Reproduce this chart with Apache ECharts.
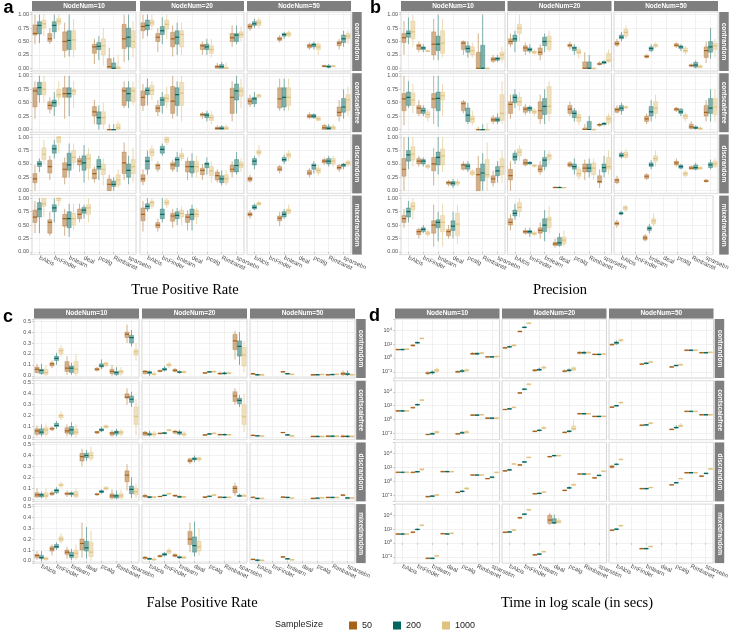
<!DOCTYPE html>
<html><head><meta charset="utf-8">
<script src="https://cdn.jsdelivr.net/npm/echarts@6/dist/echarts.min.js"></script>
<style>html,body{margin:0;padding:0;background:#fff}#c{width:732px;height:634px}</style>
</head><body><div id="c"></div>
<script>
// ---------- categories ----------
const methods = ['bAlcis','bnFinder','bnlearn','deal','pcalg','Rimbanet','sparsebn'];
const nodeNums = ['NodeNum=10','NodeNum=20','NodeNum=50'];
const dataTypes = ['contrandom','contscalefree','discrandom','mixedrandom'];
const sampleSizes = ['50','200','1000'];
const titles = ['True Positive Rate','Precision','False Positive Rate','Time in log scale (in secs)'];
const letters = ['a','b','c','d'];

// each facet: 7 methods (null = not run); each method: [n50, n200, n1000] boxes [lo,q1,median,q3,hi]
// ---- a: True Positive Rate (percent) ----
const a10cr = [[[45,62,65,81,100],[47,64,80,87,100],[60,75,83,90,100]],[[45,50,55,65,75],[55,68,80,87,100],[70,82,88,93,100]],[[20,33,50,68,85],[22,35,52,70,100],[20,35,53,70,92]],null,[[8,28,40,45,55],[15,35,41,48,60],[5,25,42,55,75]],[[0,0,3,18,38],[0,0,0,10,20],[0,0,0,3,25]],[[12,37,55,82,100],[15,40,58,75,100],[20,38,50,70,88]]];
const a20cr = [[[55,70,78,85,100],[60,72,80,90,100],[70,80,85,90,100]],[[30,50,58,65,75],[45,63,70,78,95],[55,73,82,90,100]],[[22,40,55,67,80],[25,45,58,70,85],[25,40,63,70,85]],null,[[25,35,42,45,50],[25,35,40,45,55],[20,28,35,42,55]],[[0,0,3,5,10],[0,0,3,7,12],[0,0,0,2,10]],[[40,50,57,65,80],[45,50,62,65,80],[50,58,63,68,78]]];
const a50cr = [[[70,74,78,82,85],[75,80,83,87,92],[75,80,85,90,95]],null,[[48,52,55,58,62],[55,60,63,65,68],[58,60,64,67,70]],null,[[35,38,42,45,48],[35,40,44,46,50],[25,35,40,45,48]],[[2,3,4,5,6],[0,2,3,5,8],[2,3,4,5,6]],[[35,42,47,50,55],[40,48,55,62,70],[45,55,60,65,70]]];
const a10cs = [[[20,42,72,78,90],[50,65,78,88,100],[50,65,75,88,100]],[[30,38,45,52,60],[25,43,50,55,70],[45,60,65,75,90]],[[20,60,67,78,100],[25,60,67,78,100],[40,65,72,75,90]],null,[[10,25,33,43,55],[0,10,22,33,45],[0,10,22,33,50]],[[0,0,0,0,10],[0,0,0,0,10],[0,0,3,10,15]],[[40,45,72,78,90],[40,53,67,78,90],[45,52,72,78,90]]];
const a20cs = [[[35,45,60,72,85],[45,65,73,78,95],[55,65,73,82,90]],[[25,33,40,45,55],[30,45,55,60,70],[40,52,58,65,80]],[[20,30,53,80,100],[25,45,65,78,90],[15,45,68,88,100]],null,[[20,25,28,30,33],[15,22,27,30,35],[10,17,22,27,35]],[[0,0,2,4,8],[0,0,2,5,8],[0,0,2,5,10]],[[15,30,60,77,90],[30,55,72,85,100],[40,62,72,78,95]]];
const a50cs = [[[42,47,53,58,65],[42,48,57,60,70],[58,60,63,65,68]],null,[[35,40,57,78,95],[35,42,60,78,95],[35,45,60,78,95]],null,[[20,22,25,28,32],[20,22,25,28,30],[15,17,20,23,26]],[[0,0,3,8,10],[0,0,2,5,10],[0,0,3,6,10]],[[15,25,32,42,55],[20,32,42,58,75],[25,35,55,65,80]]];
const a10dr = [[[0,15,22,32,48],[35,45,50,55,60],[50,58,68,80,95]],[[20,33,45,57,65],[60,70,78,85,95],[70,90,100,100,100]],[[12,25,40,52,62],[25,38,48,70,88],[40,52,62,75,88]],[[35,48,55,60,65],[15,38,52,65,85],[20,42,60,68,80]],[[15,22,32,40,45],[20,40,45,58,65],[10,30,40,50,60]],[[0,0,12,22,30],[0,8,12,18,25],[5,10,20,30,40]],[[20,32,52,72,90],[12,25,38,50,65],[15,32,45,58,80]]];
const a20dr = [[[10,17,22,30,40],[30,40,55,63,75],[55,65,72,78,85]],[[35,40,47,50,55],[65,70,77,83,88],[85,90,95,100,100]],[[35,40,48,52,58],[35,45,58,62,72],[55,60,65,70,80]],[[20,35,45,55,62],[25,33,45,55,70],[25,35,45,55,65]],[[20,30,38,42,50],[30,43,50,52,62],[15,28,37,45,55]],[[15,20,28,35,40],[10,15,22,28,38],[10,15,22,30,38]],[[25,35,40,48,55],[30,35,47,58,72],[35,43,48,53,60]]];
const a50dr = [[[15,18,22,25,30],[40,48,55,60,65],[62,68,72,75,85]],null,[[32,37,40,45,48],[50,55,58,62,67],[55,62,67,70,75]],null,[[25,30,33,38,42],[32,40,47,50,55],[28,33,38,42,48]],[[48,52,55,58,62],[45,50,55,60,65],[45,50,55,60,65]],[[35,40,43,47,50],[40,45,48,50,52],[45,48,52,55,58]]];
const a10mr = [[[35,55,65,78,95],[35,65,80,92,100],[65,85,90,100,100]],[[30,35,55,60,75],[55,75,82,88,100],[85,95,100,100,100]],[[30,48,62,70,80],[28,45,62,75,90],[40,50,62,72,90]],[[55,62,70,80,90],[62,72,78,83,88],[55,70,82,88,100]],null,null,null];
const a20mr = [[[38,58,70,82,95],[75,80,85,90,100],[80,85,92,95,100]],[[38,45,50,55,62],[55,62,70,80,100],[82,88,92,97,100]],[[45,57,67,72,80],[50,62,68,75,82],[50,65,72,78,85]],[[40,55,65,70,78],[40,60,70,80,88],[52,65,70,78,82]],null,null,null];
const a50mr = [[[62,67,70,73,78],[78,80,83,87,90],[85,88,90,92,95]],null,[[48,58,63,67,75],[62,65,70,75,80],[70,72,77,80,88]],null,null,null,null];

// ---- b: Precision (percent) ----
const b10cr = [[[25,48,57,65,88],[45,58,65,70,95],[40,55,68,88,100]],[[30,35,42,45,50],[30,35,38,40,45],[30,31,32,33,35]],[[15,25,45,68,92],[15,33,45,60,100],[20,28,47,70,92]],null,[[25,35,47,50,52],[20,30,37,42,50],[20,25,33,40,48]],[[0,0,0,30,65],[0,0,0,43,100],[0,0,0,0,0]],[[10,13,17,20,25],[12,15,18,20,25],[10,17,25,30,40]]];
const b20cr = [[[40,45,50,55,65],[30,50,55,62,70],[50,65,75,82,100]],[[25,32,38,42,48],[28,32,35,38,45],[25,28,30,32,35]],[[15,25,30,38,45],[30,42,50,58,65],[30,35,50,60,70]],null,[[35,40,43,45,50],[25,33,38,40,45],[18,27,30,35,40]],[[0,0,0,12,30],[0,0,0,12,25],[0,0,0,0,0]],[[5,7,8,10,13],[7,9,11,13,15],[10,12,15,28,35]]];
const b50cr = [[[40,43,46,50,55],[50,55,58,62,68],[55,60,67,73,80]],null,[[18,20,22,24,27],[30,33,37,40,45],[38,40,43,45,48]],null,[[38,41,43,46,48],[32,37,40,42,45],[25,30,33,38,42]],[[2,4,5,7,9],[0,2,6,11,15],[0,2,3,5,8]],[[10,20,33,40,50],[18,30,40,50,75],[20,35,42,47,55]]];
const b10cs = [[[8,35,57,67,100],[40,45,60,70,90],[30,45,55,68,85]],[[25,30,40,45,55],[25,30,35,40,45],[15,22,28,33,38]],[[10,40,57,67,100],[5,35,58,70,100],[25,55,63,70,85]],null,[[30,35,48,52,55],[10,15,27,40,50],[8,13,20,25,35]],[[0,0,0,0,5],[0,0,0,0,10],[0,0,0,0,12]],[[10,15,18,22,27],[10,15,18,22,30],[10,17,30,65,90]]];
const b20cs = [[[20,30,47,52,65],[40,50,60,65,75],[35,45,52,60,70]],[[27,32,38,42,48],[30,35,40,42,45],[25,30,33,36,40]],[[10,20,35,52,65],[10,28,43,58,75],[15,30,43,80,90]],null,[[25,30,38,45,52],[15,22,30,35,40],[8,15,22,28,35]],[[0,0,0,3,10],[0,0,0,15,25],[0,0,0,0,3]],[[5,7,9,10,12],[8,9,11,12,14],[8,12,20,25,30]]];
const b50cs = [[[30,32,37,40,45],[28,35,40,45,50],[38,40,42,42,45]],null,[[10,15,20,25,30],[15,25,33,43,55],[20,30,40,52,65]],null,[[33,35,38,40,42],[25,30,33,38,40],[15,20,25,28,32]],[[0,2,5,10,15],[0,2,3,5,8],[0,0,2,3,5]],[[15,25,32,45,55],[15,30,40,58,75],[15,28,42,58,75]]];
const b10dr = [[[0,27,40,60,100],[40,55,67,75,100],[45,57,68,82,100]],[[45,50,55,60,65],[45,50,55,58,62],[40,43,46,48,50]],[[10,37,50,62,80],[30,48,62,72,100],[35,48,65,78,100]],[[8,12,15,17,20],[5,10,14,17,22],[8,12,15,17,22]],[[38,40,48,50,55],[35,40,46,50,55],[27,30,33,37,40]],[[0,0,30,42,65],[0,18,33,50,70],[0,25,30,58,90]],[[8,15,22,28,37],[15,28,37,45,55],[15,30,45,60,75]]];
const b20dr = [[[0,20,28,40,55],[50,57,63,70,75],[55,65,72,78,85]],[[45,48,52,58,60],[48,50,52,53,55],[43,45,47,48,50]],[[30,35,40,47,55],[38,45,57,62,75],[50,58,65,68,75]],[[5,5,6,7,8],[5,5,6,7,8],[5,5,6,6,7]],[[43,45,48,52,55],[30,40,45,50,60],[20,27,32,40,45]],[[20,35,42,50,58],[25,35,42,50,60],[20,30,42,52,60]],[[5,15,17,28,40],[25,35,43,50,65],[30,40,45,62,75]]];
const b50dr = [[[12,15,20,22,28],[60,63,66,70,73],[58,62,67,72,78]],null,[[20,23,27,30,33],[40,45,48,52,57],[45,55,60,65,75]],null,[[45,48,52,55,60],[40,42,45,48,50],[25,28,32,35,38]],[[40,40,42,45,47],[38,40,43,48,52],[40,40,42,44,45]],[[15,17,18,20,22],[40,43,48,52,58],[42,45,50,55,60]]];
const b10mr = [[[45,55,62,68,80],[55,65,75,82,95],[60,78,85,92,100]],[[25,32,38,42,45],[35,38,42,45,50],[28,32,35,38,42]],[[10,35,50,58,88],[20,45,55,60,75],[10,38,55,68,90]],[[25,30,38,42,50],[25,40,48,58,75],[15,30,52,72,88]],null,null,null];
const b20mr = [[[40,50,55,62,70],[60,67,72,78,90],[65,75,83,92,100]],[[32,35,38,40,45],[28,35,38,40,45],[30,32,34,36,40]],[[25,35,40,45,55],[20,38,50,62,78],[35,45,60,65,85]],[[8,12,15,18,25],[10,12,17,27,35],[10,15,22,28,40]],null,null,null];
const b50mr = [[[45,50,53,56,60],[68,70,72,74,77],[75,78,82,85,88]],null,[[20,22,26,30,33],[35,40,44,47,52],[48,52,58,62,72]],null,null,null,null];

// ---- c: False Positive Rate (percent) ----
const c10cr = [[[2,3,6,8,11],[1,2,5,6,11],[0,1,3,6,10]],[[7,9,11,12,14],[10,14,16,18,21],[17,20,23,25,28]],[[1,4,7,13,18],[1,3,7,9,12],[0,2,6,13,20]],null,[[4,5,6,7,8],[6,8,9,11,15],[8,9,11,12,13]],[[0,2,4,6,10],[0,1,3,4,8],[0,2,4,5,8]],[[30,35,38,40,47],[27,30,35,37,42],[14,19,22,24,30]]];
const c20cr = [[[1,2,4,4.5,5],[0,2,3,4,5],[0,1,1.5,2,4]],[[3,4,4.3,5,6],[4,5,6,7,9],[7,9,10,11,13]],[[3,4,5,6,7],[2,3,3.3,4,5],[2,3,3.3,4,5]],null,[[2,2.3,2.6,3,3.3],[3,3.3,3.6,4,4.3],[3,3.4,3.8,4.2,5]],[[1,1.6,2,2.6,4],[1,1.6,2.2,2.8,4],[1,2,2.5,3,4]],[[15,24,32,38,41],[10,18,27,32,40],[3,9,19,26,32]]];
const c50cr = [[[1,1.5,2,2,2.5],[0.5,1,1,1.2,1.5],[0.5,0.7,1,1,1.2]],null,[[3,3.3,3.7,4,4.2],[1.5,1.8,2,2.2,2.5],[1,1.2,1.4,1.6,1.8]],null,[[0.5,0.8,1,1.1,1.3],[0.8,1,1.1,1.2,1.4],[1,1.1,1.3,1.4,1.6]],[[0.5,0.8,1,1.2,1.5],[0.8,1,1.2,1.4,1.6],[1,1.2,1.4,1.6,1.8]],[[0,0.8,2,3,5],[0,0.8,1.5,2.5,5],[0.5,0.8,1,1.3,2]]];
const c10cs = [[[1,3,6,8,11],[1,3,5,8,12],[1,3,7,9,13]],[[6,7,8,9,10],[8,10,11,13,15],[16,18,20,21,24]],[[1,4,6,9,12],[1,3,7,10,14],[0,3,5,8,12]],null,[[3,4,5,5.5,6],[5,6,7,8,10],[8,9,10,11,12]],[[1,2,4,5,7],[1,3,5,6,8],[1,3,5,6,8]],[[30,36,37,40,45],[28,32,35,38,42],[2,12,19,28,35]]];
const c20cs = [[[1,2,4,5,6],[1,2,3,4,6],[0,2,3,4,6]],[[3,3.3,3.7,4,4.3],[3,3.6,4,4.5,5],[6,6.3,6.8,7.2,7.8]],[[3,4,5.5,6,7],[2,3,4.5,5.5,7],[0,2,3,4,6]],null,[[2,2.2,2.4,2.6,3],[3,3.1,3.3,3.5,3.8],[3,3.5,3.8,4.2,4.8]],[[2,2.3,2.7,3,3.5],[2,2.3,2.7,3,3.5],[2,2.3,2.6,2.9,3.2]],[[30,33,38,42,45],[28,31,34,36,39],[5,12,19,30,40]]];
const c50cs = [[[1.6,1.8,2,2.2,2.6],[1,1.3,1.6,1.8,2],[1,1.2,1.4,1.6,1.8]],null,[[4,4.3,4.6,4.8,5],[2,2.2,2.5,2.7,3],[1,1.2,1.5,1.7,2]],null,[[0.8,0.9,1,1.1,1.2],[0.8,0.9,1,1.1,1.2],[0.8,0.9,1,1.1,1.2]],[[1,1.1,1.3,1.5,1.8],[1,1.1,1.3,1.5,1.8],[1,1.1,1.3,1.5,1.8]],[[0,0.6,1,1.6,2.6],[0,0.6,1,1.4,2],[0,0.6,1,1.4,2]]];
const c10dr = [[[1,2,4,6,10],[1,2,4,5,7],[0,2,3,6,10]],[[3,4,5,6,8],[5,6,8,9,11],[10,12,13,14,16]],[[2,4,5,6,8],[2,4,5,6,7],[1,2,4,7,10]],[[30,35,39,42,46],[35,38,40,42,45],[35,37,40,43,48]],[[3,4,4.5,5,6],[5,6,7,8,9],[8,9,10,11,12]],[[0,1,3,5,9],[0,1,3,4,8],[0,1,3,5,9]],[[8,16,22,26,32],[1,5,9,12,20],[1,4,7,10,14]]];
const c20dr = [[[1,2,3,3.5,5],[1,1.3,2,2.4,3],[1,1.3,2,2.4,3]],[[2,2.2,2.5,2.8,3],[3,3.2,3.5,3.8,4],[4,4.6,5,5.5,6]],[[2,2.8,3.3,3.8,4.3],[1,1.8,2.2,2.8,3.2],[1,1.8,2.2,2.6,3]],[[32,34,35,37,38],[34,36,37,38,40],[34,36,37,38,39]],[[1,1.8,2,2.3,2.8],[2,2.4,2.7,3,3.3],[3,3.4,3.8,4.1,4.4]],[[1,1.3,1.8,2.2,2.8],[1,1.3,1.7,2,2.4],[1,1.3,1.7,2,2.4]],[[3,6,10,12,15],[2,2.4,3,3.8,5],[2,2.4,3,3.8,5]]];
const c50dr = [[[1,1.5,1.8,2,2.3],[0,0.4,0.7,0.9,1.2],[0,0.6,0.9,1.1,1.3]],null,[[1.6,1.8,2,2.2,2.4],[1,1.3,1.6,1.8,2],[0.8,1,1.1,1.3,1.5]],null,[[0.2,0.5,0.7,0.9,1.1],[0.8,0.9,1.1,1.2,1.4],[1.1,1.3,1.5,1.7,1.9]],[[1,1.3,1.6,1.8,2],[1,1.3,1.6,1.8,2],[1,1.3,1.6,1.8,2]],[[3,3.3,3.7,4,4.4],[0.8,1,1.2,1.4,1.6],[0.8,1,1.2,1.4,1.6]]];
const c10mr = [[[1,3,5,6,9],[0,2,3,5,9],[0,1,2,3,4]],[[5,9,11,13,15],[10,12,13,15,17],[16,18,20,22,25]],[[2,6,8,10,13],[1,3,5,8,11],[1,3,7,10,15]],[[3,10,16,20,35],[2,9,12,18,31],[0,4,8,17,28]],null,null,null];
const c20mr = [[[1,2,3,3.5,4.5],[1,1.3,2,2.4,3],[0,0.8,1.2,2,4]],[[3,3.8,4.3,5,6],[4,5,6,7,8],[6,7,9,10,12]],[[3,4,5,6,7],[2,2.6,3.2,4,5],[2,2.4,3,3.8,5]],[[8,15,20,27,35],[4,8,14,22,36],[5,9,13,18,30]],null,null,null];
const c50mr = [[[1,1.2,1.4,1.7,2],[0,0.4,0.7,0.9,1.1],[0,0.4,0.6,0.8,1]],null,[[3,3.3,3.7,4,4.2],[1.5,1.8,2,2.2,2.4],[0.8,1,1.1,1.3,1.5]],null,null,null,null];

// ---- d: Time, log10 seconds ----
const d10cr = [[[1.1,1.15,1.2,1.25,1.3],[1.1,1.15,1.2,1.25,1.3],[1.15,1.2,1.25,1.3,1.35]],[[1.6,1.7,1.8,1.85,1.95],[2.0,2.1,2.2,2.25,2.35],[2.7,2.75,2.8,2.85,2.9]],[[-2.5,-2.3,-2.2,-2.1,-1.9],[-2.4,-2.2,-2.1,-2.0,-1.8],[-2.2,-2.0,-1.8,-1.6,-1.4]],null,[[-2.2,-2.1,-2.0,-1.9,-1.8],[-2.1,-2.0,-1.9,-1.8,-1.6],[-2.0,-1.9,-1.8,-1.7,-1.5]],[[0.4,0.5,0.6,0.7,0.8],[0.4,0.5,0.6,0.7,0.8],[0.5,0.6,0.7,0.75,0.85]],[[0.05,0.1,0.15,0.2,0.25],[0.05,0.1,0.15,0.2,0.25],[0.1,0.15,0.2,0.25,0.3]]];
const d20cr = [[[1.3,1.4,1.45,1.5,1.6],[1.45,1.55,1.6,1.65,1.75],[1.6,1.7,1.8,1.9,2.0]],[[3.7,3.75,3.8,3.85,3.9],[4.3,4.35,4.4,4.45,4.5],[4.9,4.95,5.0,5.05,5.1]],[[-2.0,-1.9,-1.8,-1.7,-1.6],[-1.9,-1.8,-1.7,-1.6,-1.4],[-1.7,-1.5,-1.4,-1.3,-1.1]],null,[[-2.1,-2.0,-1.9,-1.85,-1.7],[-2.0,-1.9,-1.8,-1.7,-1.5],[-1.9,-1.8,-1.6,-1.4,-1.2]],[[0.5,0.6,0.75,0.85,0.95],[0.5,0.65,0.75,0.85,0.95],[0.6,0.7,0.75,0.85,0.95]],[[0.4,0.45,0.5,0.55,0.6],[0.4,0.45,0.5,0.55,0.6],[0.45,0.5,0.55,0.6,0.7]]];
const d50cr = [[[1.8,1.85,1.9,2.0,2.1],[1.9,2.0,2.2,2.3,2.5],[2.3,2.4,2.55,2.65,2.8]],null,[[-1.0,-0.95,-0.9,-0.85,-0.8],[-0.9,-0.85,-0.8,-0.7,-0.6],[-0.7,-0.65,-0.6,-0.55,-0.5]],null,[[-1.4,-1.35,-1.3,-1.25,-1.2],[-1.2,-1.15,-1.1,-1.05,-1.0],[-1.1,-1.05,-1.0,-0.9,-0.85]],[[1.0,1.05,1.1,1.15,1.2],[1.0,1.05,1.1,1.15,1.2],[1.0,1.05,1.1,1.15,1.2]],[[0.65,0.7,0.75,0.8,0.85],[0.65,0.7,0.75,0.8,0.85],[0.7,0.75,0.8,0.85,0.9]]];
const d10cs = [[[1.15,1.2,1.25,1.3,1.35],[1.15,1.2,1.25,1.3,1.35],[1.15,1.2,1.25,1.3,1.35]],[[1.6,1.65,1.7,1.8,1.85],[2.0,2.1,2.15,2.2,2.3],[2.75,2.78,2.8,2.85,2.9]],[[-2.25,-2.2,-2.15,-2.1,-2.05],[-2.2,-2.1,-2.05,-1.95,-1.9],[-2.0,-1.9,-1.8,-1.7,-1.6]],null,[[-2.15,-2.1,-2.05,-2.0,-1.95],[-2.1,-2.0,-1.9,-1.8,-1.7],[-2.0,-1.9,-1.8,-1.7,-1.5]],[[0.55,0.6,0.65,0.7,0.75],[0.55,0.6,0.65,0.7,0.75],[0.6,0.65,0.7,0.75,0.8]],[[0.1,0.15,0.2,0.25,0.3],[0.1,0.15,0.2,0.25,0.3],[0.1,0.15,0.2,0.25,0.3]]];
const d20cs = [[[1.4,1.42,1.45,1.5,1.55],[1.5,1.52,1.55,1.6,1.65],[1.7,1.72,1.75,1.8,1.85]],[[3.8,3.82,3.85,3.88,3.9],[4.35,4.38,4.4,4.42,4.45],[5.05,5.08,5.1,5.12,5.15]],[[-1.8,-1.75,-1.7,-1.65,-1.6],[-1.7,-1.6,-1.55,-1.5,-1.4],[-1.4,-1.3,-1.2,-1.1,-1.0]],null,[[-1.95,-1.9,-1.85,-1.8,-1.75],[-1.85,-1.75,-1.7,-1.6,-1.5],[-1.6,-1.5,-1.3,-0.9,0.0]],[[0.8,0.82,0.85,0.88,0.9],[0.8,0.82,0.85,0.88,0.9],[0.8,0.82,0.85,0.88,0.9]],[[0.4,0.42,0.45,0.48,0.5],[0.4,0.42,0.45,0.48,0.5],[0.4,0.42,0.45,0.5,0.55]]];
const d50cs = [[[1.7,1.75,1.8,1.85,1.9],[1.9,1.95,2.0,2.05,2.1],[2.35,2.4,2.45,2.5,2.6]],null,[[-0.85,-0.82,-0.8,-0.78,-0.75],[-0.8,-0.78,-0.75,-0.72,-0.7],[-0.55,-0.52,-0.5,-0.48,-0.45]],null,[[-1.45,-1.42,-1.4,-1.38,-1.35],[-1.3,-1.2,-1.15,-1.1,-0.8],[-1.1,-1.0,-0.9,-0.8,-0.5]],[[1.15,1.18,1.2,1.22,1.25],[1.15,1.18,1.2,1.22,1.25],[1.15,1.18,1.2,1.22,1.25]],[[0.65,0.68,0.7,0.72,0.75],[0.65,0.68,0.7,0.72,0.75],[0.65,0.68,0.7,0.72,0.75]]];
const d10dr = [[[1.2,1.25,1.3,1.35,1.4],[1.2,1.25,1.3,1.35,1.4],[1.2,1.25,1.3,1.35,1.4]],[[1.25,1.28,1.3,1.32,1.35],[1.35,1.38,1.4,1.42,1.45],[1.55,1.6,1.7,1.8,1.85]],[[-2.3,-2.25,-2.2,-2.15,-2.1],[-2.25,-2.2,-2.15,-2.1,-2.05],[-2.1,-2.05,-2.0,-1.9,-1.85]],[[1.35,1.38,1.4,1.45,1.5],[1.35,1.38,1.4,1.45,1.5],[1.35,1.38,1.4,1.45,1.5]],[[-1.7,-1.65,-1.6,-1.55,-1.5],[-1.6,-1.5,-1.45,-1.4,-1.3],[-1.2,-1.1,-1.05,-0.95,-0.85]],[[0.8,0.85,0.9,0.95,1.0],[0.8,0.85,0.9,0.95,1.0],[0.8,0.85,0.9,0.95,1.0]],[[0.35,0.38,0.4,0.42,0.45],[0.55,0.58,0.6,0.62,0.65],[1.25,1.28,1.3,1.32,1.35]]];
const d20dr = [[[1.4,1.45,1.5,1.55,1.6],[1.55,1.6,1.65,1.7,1.75],[2.45,2.48,2.5,2.52,2.55]],[[2.3,2.32,2.35,2.38,2.4],[2.75,2.78,2.8,2.82,2.85],[3.4,3.42,3.45,3.48,3.5]],[[-1.9,-1.85,-1.8,-1.75,-1.7],[-1.85,-1.8,-1.75,-1.7,-1.65],[-1.65,-1.6,-1.55,-1.5,-1.4]],[[3.45,3.5,3.55,3.6,3.65],[3.6,3.65,3.7,3.75,3.8],[3.6,3.65,3.7,3.75,3.8]],[[-1.35,-1.32,-1.3,-1.28,-1.25],[-1.1,-1.0,-0.95,-0.9,-0.7],[-0.7,-0.6,-0.5,-0.4,-0.3]],[[0.95,1.0,1.05,1.1,1.15],[0.95,1.0,1.05,1.1,1.15],[0.95,1.0,1.05,1.1,1.15]],[[0.4,0.45,0.5,0.55,0.6],[0.8,0.82,0.85,0.88,0.9],[1.4,1.42,1.45,1.48,1.5]]];
const d50dr = [[[1.8,1.95,2.1,2.25,2.4],[2.3,2.4,2.45,2.5,2.6],[3.1,3.12,3.15,3.18,3.2]],null,[[-1.15,-1.1,-1.05,-1.0,-0.95],[-1.15,-1.1,-1.05,-1.0,-0.95],[-1.0,-0.95,-0.9,-0.85,-0.8]],null,[[-0.55,-0.52,-0.5,-0.48,-0.45],[-0.25,-0.22,-0.2,-0.18,-0.15],[0.35,0.38,0.4,0.42,0.45]],[[1.2,1.22,1.25,1.28,1.3],[1.2,1.22,1.25,1.28,1.3],[1.2,1.22,1.25,1.28,1.3]],[[0.7,0.72,0.75,0.78,0.8],[1.1,1.12,1.15,1.18,1.2],[1.75,1.78,1.8,1.82,1.85]]];
const d10mr = [[[1.25,1.28,1.3,1.32,1.35],[1.25,1.28,1.3,1.32,1.35],[1.25,1.28,1.3,1.32,1.35]],[[1.5,1.52,1.55,1.6,1.65],[1.85,1.9,1.95,2.0,2.1],[2.45,2.5,2.55,2.6,2.65]],[[-2.25,-2.22,-2.2,-2.18,-2.15],[-2.25,-2.22,-2.2,-2.18,-2.15],[-1.95,-1.9,-1.85,-1.8,-1.75]],[[1.3,1.32,1.35,1.38,1.4],[1.25,1.28,1.3,1.35,1.4],[1.35,1.38,1.4,1.42,1.45]],null,null,null];
const d20mr = [[[1.5,1.52,1.55,1.58,1.6],[1.55,1.58,1.6,1.62,1.65],[1.75,1.8,1.85,1.9,1.95]],[[3.4,3.55,3.65,3.7,3.75],[4.05,4.1,4.15,4.2,4.25],[4.75,4.78,4.8,4.82,4.85]],[[-1.75,-1.72,-1.7,-1.68,-1.65],[-1.7,-1.65,-1.6,-1.55,-1.5],[-1.35,-1.3,-1.25,-1.2,-1.15]],[[2.6,2.8,3.3,4.0,4.3],[2.7,2.85,2.9,3.5,4.1],[2.8,2.9,3.05,3.3,3.6]],null,null,null];
const d50mr = [[[1.8,1.82,1.85,1.88,1.9],[1.95,1.98,2.0,2.02,2.05],[2.4,2.45,2.5,2.55,2.6]],null,[[-0.85,-0.82,-0.8,-0.78,-0.75],[-0.85,-0.82,-0.8,-0.78,-0.75],[-0.55,-0.52,-0.5,-0.48,-0.45]],null,null,null,null];

// ---------- assembly ----------
const FACETS = [
  [[a10cr,a20cr,a50cr],[a10cs,a20cs,a50cs],[a10dr,a20dr,a50dr],[a10mr,a20mr,a50mr]],
  [[b10cr,b20cr,b50cr],[b10cs,b20cs,b50cs],[b10dr,b20dr,b50dr],[b10mr,b20mr,b50mr]],
  [[c10cr,c20cr,c50cr],[c10cs,c20cs,c50cs],[c10dr,c20dr,c50dr],[c10mr,c20mr,c50mr]],
  [[d10cr,d20cr,d50cr],[d10cs,d20cs,d50cs],[d10dr,d20dr,d50dr],[d10mr,d20mr,d50mr]]
];
const UNIT = [0.01, 0.01, 0.01, 1];

const SUP = {'-':'\u207B','0':'\u2070','1':'\u00B9','2':'\u00B2','3':'\u00B3','4':'\u2074','5':'\u2075','6':'\u2076'};
const YAX = [
  {min:-0.05, max:1.05, step:0.25, fmt:v=>v.toFixed(2)},
  {min:-0.05, max:1.05, step:0.25, fmt:v=>v.toFixed(2)},
  {min:-0.02, max:0.52, step:0.1, fmt:v=>v.toFixed(1)},
  {min:-2.9, max:5.6, step:2, fmt:v=>'10'+String(Math.round(v)).split('').map(ch=>SUP[ch]).join('')}
];
const T1 = [12,73.2,134.4,195.6], T2 = [319,380.7,442.4,504.1];
const LAY = [
  {lefts:[32,140,247], w:104, tops:T1, h:59, stripTop:1, letter:[3.5,8], title:[185,290]},
  {lefts:[401,507.5,614], w:104, tops:T1, h:59, stripTop:1, letter:[370,8], title:[560,290]},
  {lefts:[34,142,250], w:105, tops:T2, h:59, stripTop:308.5, letter:[3,317], title:[202,603]},
  {lefts:[395,502,609], w:104.5, tops:T2, h:59, stripTop:308.5, letter:[369,316], title:[577,603]}
];
const COLORS = ['#A6611A','#01665E','#DFC27D'];
const FILL = ['rgba(166,97,26,0.5)','rgba(1,102,94,0.5)','rgba(223,194,125,0.5)'];
const FAINT = ['rgba(166,97,26,0.55)','rgba(1,102,94,0.55)','rgba(223,194,125,0.65)'];

function makeRender(k){
  return function(params, api){
    const ci = api.value(0);
    const band = api.size([1,0])[0];
    const bw = band*0.28, off = (k-1)*band*0.3;
    const lo = api.coord([ci, api.value(1)]), q1 = api.coord([ci, api.value(2)]),
          md = api.coord([ci, api.value(3)]), q3 = api.coord([ci, api.value(4)]),
          hi = api.coord([ci, api.value(5)]);
    const x = md[0] + off;
    return {type:'group', children:[
      {type:'line', shape:{x1:x,y1:hi[1],x2:x,y2:q3[1]}, style:{stroke:FAINT[k], lineWidth:0.9}},
      {type:'line', shape:{x1:x,y1:q1[1],x2:x,y2:lo[1]}, style:{stroke:FAINT[k], lineWidth:0.9}},
      {type:'rect', shape:{x:x-bw/2, y:q3[1], width:bw, height:Math.max(q1[1]-q3[1],0.8)}, style:{fill:FILL[k], stroke:FAINT[k], lineWidth:0.5}},
      {type:'line', shape:{x1:x-bw/2,y1:md[1],x2:x+bw/2,y2:md[1]}, style:{stroke:COLORS[k], lineWidth:1.2}}
    ]};
  };
}

const grids=[], xAxes=[], yAxes=[], series=[], graphics=[];
const SANS = 'Liberation Sans', SERIF = 'Liberation Serif';
FACETS.forEach((P,p)=>{
  const L = LAY[p], Y = YAX[p];
  for (let r=0;r<4;r++) for (let c=0;c<3;c++){
    const gi = grids.length;
    grids.push({left:L.lefts[c], top:L.tops[r], width:L.w, height:L.h, show:true,
      borderColor:'#cccccc', borderWidth:0.8, backgroundColor:'#ffffff', containLabel:false});
    xAxes.push({gridIndex:gi, type:'category', data:methods, boundaryGap:true,
      axisLine:{show:false},
      axisTick:{show:r===3, alignWithLabel:true, length:2, lineStyle:{color:'#b3b3b3', width:0.6}},
      axisLabel:{show:r===3, interval:0, rotate:-25, fontSize:6, color:'#4d4d4d', margin:3, fontFamily:SANS},
      splitLine:{show:true, interval:0, alignWithLabel:true, lineStyle:{color:'#e8e8e8', width:0.6}}});
    yAxes.push({gridIndex:gi, type:'value', min:Y.min, max:Y.max, minInterval:Y.step, maxInterval:Y.step,
      axisLine:{show:false},
      axisTick:{show:c===0, length:2, lineStyle:{color:'#b3b3b3', width:0.6}},
      axisLabel:{show:c===0, fontSize:5.5, color:'#4d4d4d', margin:3, fontFamily:SANS,
        formatter:v=> (Math.abs(v/Y.step - Math.round(v/Y.step))>1e-6) ? '' : Y.fmt(v)},
      splitLine:{show:true, lineStyle:{color:'#e8e8e8', width:0.6}},
      minorTick:{show:false, splitNumber:2},
      minorSplitLine:{show:true, lineStyle:{color:'#f4f4f4', width:0.4}}});
    const facet = P[r][c];
    sampleSizes.forEach((s,k)=>{
      const data = [];
      facet.forEach((m,mi)=>{ if (m) data.push([mi].concat(m[k].map(v=>v*UNIT[p]))); });
      series.push({type:'custom', name:s, xAxisIndex:gi, yAxisIndex:gi, data:data,
        encode:{x:0, y:3}, itemStyle:{color:COLORS[k]}, renderItem:makeRender(k), silent:true, clip:true});
    });
  }
  // top strips
  for (let c=0;c<3;c++){
    graphics.push({type:'rect', shape:{x:L.lefts[c], y:L.stripTop, width:L.w, height:10}, style:{fill:'#7f7f7f'}, silent:true});
    graphics.push({type:'text', x:L.lefts[c]+L.w/2, y:L.stripTop+5.2, silent:true,
      style:{text:nodeNums[c], fill:'#ffffff', font:'bold 6.5px "'+SANS+'"', align:'center', verticalAlign:'middle'}});
  }
  // right strips
  const sx = L.lefts[2]+L.w+1.2;
  for (let r=0;r<4;r++){
    graphics.push({type:'rect', shape:{x:sx, y:L.tops[r], width:9.5, height:L.h}, style:{fill:'#7f7f7f'}, silent:true});
    graphics.push({type:'text', x:sx+4.9, y:L.tops[r]+L.h/2, rotation:-Math.PI/2, silent:true,
      style:{text:dataTypes[r], fill:'#ffffff', font:'bold 6.5px "'+SANS+'"', align:'center', verticalAlign:'middle'}});
  }
  graphics.push({type:'text', x:L.letter[0], y:L.letter[1], silent:true,
    style:{text:letters[p], fill:'#000', font:'bold 18px "'+SANS+'"', align:'left', verticalAlign:'middle'}});
  graphics.push({type:'text', x:L.title[0], y:L.title[1], silent:true,
    style:{text:titles[p], fill:'#000', font:'14.5px "'+SERIF+'"', align:'center', verticalAlign:'middle'}});
});
graphics.push({type:'text', x:275, y:625, silent:true,
  style:{text:'SampleSize', fill:'#1a1a1a', font:'9px "'+SANS+'"', align:'left', verticalAlign:'middle'}});

const chart = echarts.init(document.getElementById('c'), null, {renderer:'canvas'});
chart.setOption({
  animation:false,
  backgroundColor:'#ffffff',
  grid:grids, xAxis:xAxes, yAxis:yAxes, series:series,
  legend:{data:sampleSizes, left:349, top:621, padding:0, itemWidth:8, itemHeight:8, itemGap:21,
    icon:'rect', selectedMode:false, textStyle:{fontSize:9, color:'#1a1a1a', fontFamily:SANS}},
  graphic:graphics
});
</script></body></html>
